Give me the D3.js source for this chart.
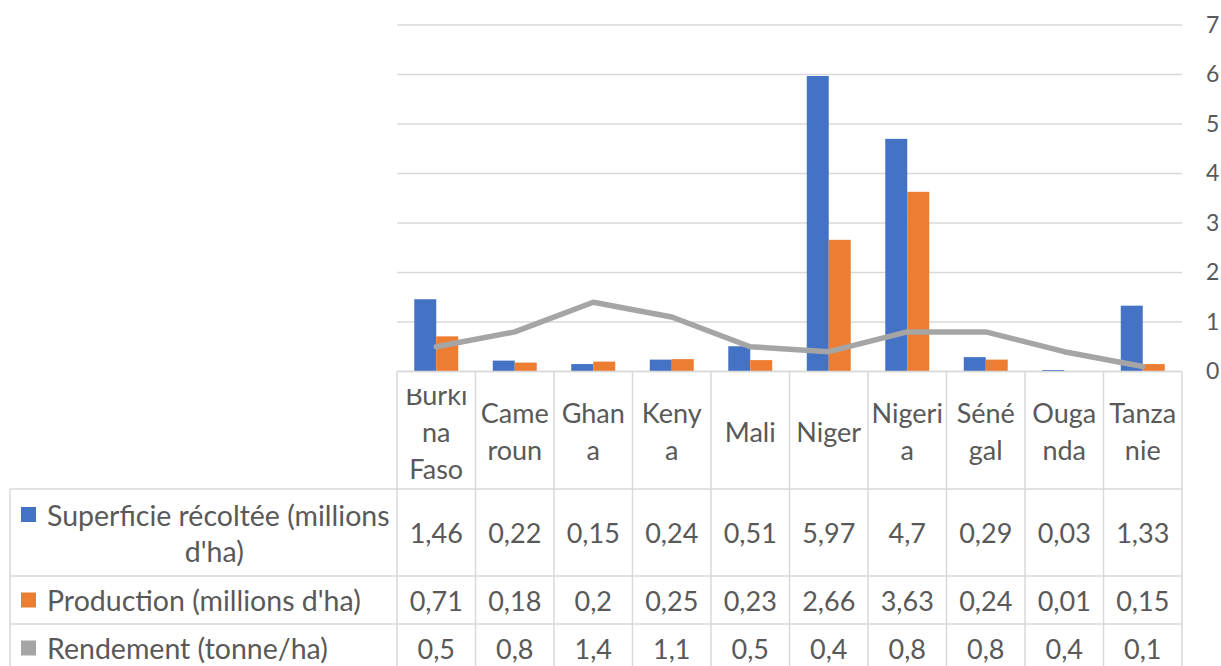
<!DOCTYPE html>
<html>
<head>
<meta charset="utf-8">
<script src="https://cdn.jsdelivr.net/npm/d3@7"></script>
<style>
  body { margin: 0; background: #fff; }
  svg { display: block; }
  text { font-family: Lato, "Open Sans", sans-serif; fill: #595959; }
</style>
</head>
<body>
<svg id="chart" width="1221" height="666"></svg>
<script>
// Pays (catégories) et découpage des libellés dans l'en-tête du tableau
const categories = ["Burkina Faso", "Cameroun", "Ghana", "Kenya", "Mali", "Niger", "Nigeria", "Sénégal", "Ouganda", "Tanzanie"];
const categoryLines = [["Burki", "na", "Faso"], ["Came", "roun"], ["Ghan", "a"], ["Keny", "a"], ["Mali"], ["Niger"], ["Nigeri", "a"], ["Séné", "gal"], ["Ouga", "nda"], ["Tanza", "nie"]];

// Séries
const superficie = [1.46, 0.22, 0.15, 0.24, 0.51, 5.97, 4.7, 0.29, 0.03, 1.33];
const production = [0.71, 0.18, 0.2, 0.25, 0.23, 2.66, 3.63, 0.24, 0.01, 0.15];
const rendement = [0.5, 0.8, 1.4, 1.1, 0.5, 0.4, 0.8, 0.8, 0.4, 0.1];

const seriesNames = ["Superficie récoltée (millions d'ha)", "Production (millions d'ha)", "Rendement (tonne/ha)"];
const seriesLabelLines = [["Superficie récoltée (millions", "d'ha)"], ["Production (millions d'ha)"], ["Rendement (tonne/ha)"]];
const seriesColors = ["#4472c4", "#ed7d31", "#a5a5a5"];

// Graduations de l'axe de droite
const yTicks = [0, 1, 2, 3, 4, 5, 6, 7];

// Mise en page
const plotLeft = 397, plotRight = 1182, plotTop = 25, plotBottom = 371.5;
const tableLeft = 10;
const headerBottom = 489;
const rowBounds = [[489, 576], [576, 624], [624, 672]];
const gridColor = "#d9d9d9";
const cellFont = 27, legendFont = 28.5;

const fr = d3.formatLocale({ decimal: ",", thousands: " ", grouping: [3], currency: ["", " €"] });
const fmt = fr.format("~g");

const svg = d3.select("#chart");

const x0 = d3.scaleBand().domain(categories).range([plotLeft, plotRight]).paddingInner(0).paddingOuter(0);
const bw = x0.bandwidth();
const groupWidth = bw * 0.56;
const x1 = d3.scaleBand().domain([0, 1]).range([(bw - groupWidth) / 2, (bw + groupWidth) / 2]);
const y = d3.scaleLinear().domain([0, 7]).range([plotBottom, plotTop]);

// Quadrillage horizontal
svg.append("g")
  .selectAll("line")
  .data(yTicks)
  .join("line")
  .attr("x1", plotLeft).attr("x2", plotRight)
  .attr("y1", d => y(d)).attr("y2", d => y(d))
  .attr("stroke", gridColor).attr("stroke-width", 1.5);

// Axe de droite (étiquettes seulement)
const yAxis = d3.axisRight(y).tickValues(yTicks).tickFormat(d3.format("d")).tickSize(0).tickPadding(0);
const gAxis = svg.append("g").attr("transform", `translate(1206,0)`).call(yAxis);
gAxis.select(".domain").remove();
gAxis.selectAll("text")
  .attr("font-size", 23)
  .style("font-family", "Lato, 'Open Sans', sans-serif")
  .attr("fill", "#595959");

// Barres groupées
const barSeries = [superficie, production];
const gBars = svg.append("g");
barSeries.forEach((vals, s) => {
  gBars.append("g")
    .selectAll("rect")
    .data(vals)
    .join("rect")
    .attr("x", (d, i) => x0(categories[i]) + x1(s))
    .attr("width", x1.bandwidth())
    .attr("y", d => y(d))
    .attr("height", d => y(0) - y(d))
    .attr("fill", seriesColors[s]);
});

// Courbe du rendement
const line = d3.line()
  .x((d, i) => x0(categories[i]) + bw / 2)
  .y(d => y(d));
svg.append("path")
  .datum(rendement)
  .attr("d", line)
  .attr("fill", "none")
  .attr("stroke", seriesColors[2])
  .attr("stroke-width", 5.5)
  .attr("stroke-linejoin", "round")
  .attr("stroke-linecap", "round");

// Tableau de données
const gTable = svg.append("g");
const tableBottom = rowBounds[rowBounds.length - 1][1];

// lignes horizontales
gTable.append("line")
  .attr("x1", plotLeft).attr("x2", plotRight).attr("y1", plotBottom).attr("y2", plotBottom)
  .attr("stroke", gridColor).attr("stroke-width", 1.5);
rowBounds.forEach(([top]) => {
  gTable.append("line")
    .attr("x1", tableLeft).attr("x2", plotRight).attr("y1", top).attr("y2", top)
    .attr("stroke", gridColor).attr("stroke-width", 1.5);
});
// lignes verticales des colonnes
const colEdges = categories.map(c => x0(c)).concat([plotRight]);
gTable.selectAll("line.col")
  .data(colEdges)
  .join("line")
  .attr("class", "col")
  .attr("x1", d => d).attr("x2", d => d)
  .attr("y1", plotBottom).attr("y2", tableBottom)
  .attr("stroke", gridColor).attr("stroke-width", 1.5);
gTable.append("line")
  .attr("x1", tableLeft).attr("x2", tableLeft).attr("y1", headerBottom).attr("y2", tableBottom)
  .attr("stroke", gridColor).attr("stroke-width", 1.5);

// En-têtes de colonnes (pays), rognés en haut de la cellule
svg.append("clipPath").attr("id", "headerClip")
  .append("rect").attr("x", plotLeft).attr("y", 389).attr("width", plotRight - plotLeft).attr("height", headerBottom - 389);
const lineH = 37;
const headerMid = (plotBottom + headerBottom) / 2 + 1;
const gHead = svg.append("g").attr("clip-path", "url(#headerClip)");
categoryLines.forEach((lines, i) => {
  const cx = x0(categories[i]) + bw / 2;
  const t = gHead.append("text")
    .attr("text-anchor", "middle")
    .attr("font-size", cellFont);
  lines.forEach((ln, k) => {
    t.append("tspan")
      .attr("x", cx)
      .attr("y", headerMid + (k - (lines.length - 1) / 2) * lineH)
      .attr("dominant-baseline", "central")
      .text(ln);
  });
});

// Lignes de valeurs
const allSeries = [superficie, production, rendement];
allSeries.forEach((vals, s) => {
  const [top, bottom] = rowBounds[s];
  const mid = s === 2 ? 648 : (top + bottom) / 2;
  // légende : carré de couleur + libellé
  const labels = seriesLabelLines[s];
  const firstY = labels.length > 1 ? mid - 18 : mid;
  gTable.append("rect")
    .attr("x", 21).attr("y", firstY - 7.5)
    .attr("width", 15).attr("height", 15)
    .attr("fill", seriesColors[s]);
  const first = gTable.append("text")
    .attr("x", 47).attr("y", firstY)
    .attr("dominant-baseline", "central")
    .attr("font-size", legendFont)
    .text(labels[0]);
  if (labels.length > 1) {
    const w = first.node().getComputedTextLength();
    gTable.append("text")
      .attr("x", 47 + w / 2 - 4).attr("y", firstY + 36)
      .attr("text-anchor", "middle")
      .attr("dominant-baseline", "central")
      .attr("font-size", legendFont)
      .text(labels[1]);
  }
  gTable.append("g")
    .selectAll("text")
    .data(vals)
    .join("text")
    .attr("x", (d, i) => x0(categories[i]) + bw / 2)
    .attr("y", mid)
    .attr("text-anchor", "middle")
    .attr("dominant-baseline", "central")
    .attr("font-size", cellFont)
    .text(d => fmt(d));
});
</script>
</body>
</html>
